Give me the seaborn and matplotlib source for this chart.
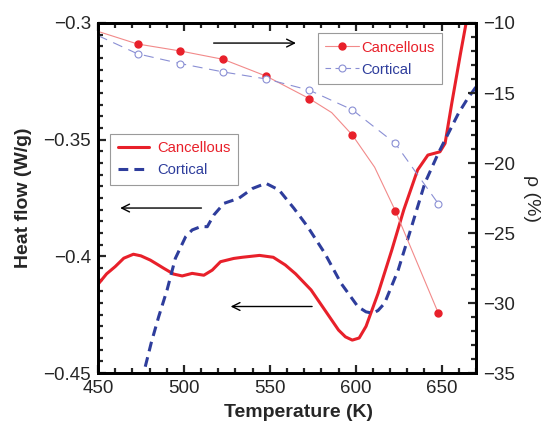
import matplotlib
matplotlib.use("Agg")
import matplotlib.pyplot as plt
import seaborn as sns
from matplotlib.lines import Line2D
from matplotlib.ticker import MultipleLocator

# ---------------- data ----------------
hf_canc_T = [450, 455, 460, 465, 470.6, 475, 480.4, 484, 488.2, 494, 499, 504.8, 511.6, 516.5,
             521.3, 529, 534, 544, 552, 559, 565, 574, 582, 590, 594, 598, 602, 606, 613, 621,
             628, 636, 642, 649, 652, 656, 661, 665]
hf_canc = [-0.412, -0.4075, -0.4044, -0.4008, -0.3991, -0.3998, -0.4016, -0.4032, -0.4051,
           -0.4076, -0.4084, -0.4073, -0.4081, -0.4059, -0.4023, -0.4009, -0.4004, -0.3996,
           -0.4004, -0.4037, -0.4075, -0.4144, -0.423, -0.4316, -0.4345, -0.4359, -0.4350,
           -0.430, -0.4159, -0.3973, -0.380, -0.363, -0.3566, -0.3552, -0.3516, -0.334,
           -0.313, -0.297]

hf_cort_T = [477.5, 481, 485.3, 490.2, 495, 501, 504.8, 510, 513.6, 517.4, 523.3, 532, 540,
             547.7, 555.4, 564, 572, 582, 591.5, 601.3, 606, 610, 613, 616.8, 624.7, 632.5,
             640.2, 648, 653.9, 659.8, 664.6, 670]
hf_cort = [-0.4473, -0.437, -0.4259, -0.4144, -0.4009, -0.3916, -0.3887, -0.3872, -0.3873,
           -0.3823, -0.3773, -0.3751, -0.3709, -0.3687, -0.3716, -0.3794, -0.3873, -0.3987,
           -0.4116, -0.4216, -0.4238, -0.4244, -0.4232, -0.4201, -0.4059, -0.3873, -0.3687,
           -0.3559, -0.3473, -0.3387, -0.333, -0.3274]

rho_T = [473, 498, 523, 548, 573, 598, 623, 648]
rho_canc = [-11.5, -12.0, -12.6, -13.8, -15.4, -18.0, -23.4, -30.7]
rho_cort = [-12.2, -12.9, -13.5, -14.0, -14.8, -16.2, -18.6, -22.9]

rho_canc_line_T = [450, 473, 498, 523, 548, 573, 586, 598, 611, 623, 648]
rho_canc_line = [-10.6, -11.5, -12.0, -12.6, -13.8, -15.4, -16.4, -18.0, -20.3, -23.4, -30.7]
rho_cort_line_T = [450, 473, 498, 523, 548, 573, 598, 623, 648]
rho_cort_line = [-10.9, -12.2, -12.9, -13.5, -14.0, -14.8, -16.2, -18.6, -22.9]

hf_ticks = [-0.45, -0.4, -0.35, -0.3]
hf_tick_labels = ["\u22120.45", "\u22120.4", "\u22120.35", "\u22120.3"]
rho_ticks = [-35, -30, -25, -20, -15, -10]
rho_tick_labels = ["\u221235", "\u221230", "\u221225", "\u221220", "\u221215", "\u221210"]
T_ticks = [450, 500, 550, 600, 650]

labels = ["Cancellous", "Cortical"]

# ---------------- style ----------------
sns.set_style("ticks")
plt.rcParams["font.family"] = ["Liberation Sans", "DejaVu Sans"]

RED = "#e8202a"
BLUE = "#2e3d9c"
PINK = "#f28a8a"
LAV = "#8a8fd4"

fig = plt.figure(figsize=(5.43, 4.22), dpi=100)
ax = fig.add_axes([0.1805, 0.1161, 0.6961, 0.8294])
ax2 = ax.twinx()

# heat flow curves (left axis)
sns.lineplot(x=hf_canc_T, y=hf_canc, ax=ax, color=RED, lw=2.2, sort=False, estimator=None)
sns.lineplot(x=hf_cort_T, y=hf_cort, ax=ax, color=BLUE, lw=2.2, sort=False, estimator=None,
             linestyle=(0, (3.2, 2.0)))

# porosity curves (right axis)
sns.lineplot(x=rho_canc_line_T, y=rho_canc_line, ax=ax2, color=PINK, lw=0.8, sort=False,
             estimator=None)
sns.lineplot(x=rho_cort_line_T, y=rho_cort_line, ax=ax2, color=LAV, lw=0.8, sort=False,
             estimator=None, linestyle=(0, (9, 6)))
ax2.plot(rho_T, rho_canc, linestyle="none", marker="o", ms=5, mfc=RED, mec=RED)
ax2.plot(rho_T, rho_cort, linestyle="none", marker="o", ms=5, mfc="white", mec=LAV, mew=0.8)

# axes limits and ticks
ax.set_xlim(450, 670)
ax.set_ylim(-0.45, -0.3)
ax2.set_ylim(-35, -10)

ax.set_xticks(T_ticks)
ax.xaxis.set_minor_locator(MultipleLocator(10))
ax.set_yticks(hf_ticks)
ax.set_yticklabels(hf_tick_labels)
ax.yaxis.set_minor_locator(MultipleLocator(0.005))
ax2.set_yticks(rho_ticks)
ax2.set_yticklabels(rho_tick_labels)
ax2.yaxis.set_minor_locator(MultipleLocator(1))

for a in (ax, ax2):
    for s in a.spines.values():
        s.set_linewidth(2.0)
        s.set_color("black")
        s.set_visible(True)

ax.tick_params(axis="x", which="both", direction="in", top=True, bottom=True,
               labelsize=13.5, pad=5, width=1.6)
ax.tick_params(axis="y", which="both", direction="in", left=True, right=False,
               labelsize=13.5, pad=5, width=1.6)
ax.tick_params(which="major", length=6)
ax.tick_params(which="minor", length=3.5)
ax2.tick_params(axis="y", which="both", direction="in", right=True, left=False,
                labelsize=13.5, pad=5, width=1.6)
ax2.tick_params(which="major", length=6)
ax2.tick_params(which="minor", length=3.5)

ax.set_xlabel("Temperature (K)", fontsize=14, fontweight="bold")
ax.xaxis.set_label_coords(0.53, -0.088)
ax.set_ylabel("Heat flow (W/g)", fontsize=14, fontweight="bold", labelpad=8)
ax2.set_ylabel("\u03c1 (%)", fontsize=14, rotation=270, labelpad=18)

# arrows
arrow_kw = dict(arrowstyle="->", lw=1.0, color="black", shrinkA=0, shrinkB=0,
                mutation_scale=14)
ax.annotate("", xy=(565.2, -0.3086), xytext=(517.3, -0.3086), arrowprops=arrow_kw)
ax.annotate("", xy=(462.9, -0.3793), xytext=(510.2, -0.3793), arrowprops=arrow_kw)
ax.annotate("", xy=(527.2, -0.4215), xytext=(574.6, -0.4215), arrowprops=arrow_kw)

# legends
h1 = [Line2D([], [], color=RED, lw=2.2),
      Line2D([], [], color=BLUE, lw=2.2, linestyle=(0, (3.2, 2.0)))]
leg1 = ax.legend(h1, labels, loc="upper left", bbox_to_anchor=(0.033, 0.683),
                 fontsize=10.6, frameon=True, fancybox=False, framealpha=1,
                 edgecolor="#9a9a9a", handlelength=2.15, handletextpad=0.5,
                 labelspacing=0.55, borderpad=0.5, borderaxespad=0)
leg1.get_frame().set_linewidth(0.8)
for t, c in zip(leg1.get_texts(), [RED, BLUE]):
    t.set_color(c)

h2 = [Line2D([], [], color=PINK, lw=0.8, marker="o", ms=5, mfc=RED, mec=RED),
      Line2D([], [], color=LAV, lw=0.8, linestyle=(0, (5, 4)), marker="o", ms=5,
             mfc="white", mec=LAV, mew=0.8)]
leg2 = ax2.legend(h2, labels, loc="upper left", bbox_to_anchor=(0.581, 0.971),
                  fontsize=10.6, frameon=True, fancybox=False, framealpha=1,
                  edgecolor="#9a9a9a", handlelength=2.3, handletextpad=0.15,
                  labelspacing=0.55, borderpad=0.5, borderaxespad=0)
leg2.get_frame().set_linewidth(0.8)
for t, c in zip(leg2.get_texts(), [RED, BLUE]):
    t.set_color(c)

fig.savefig("out.png", dpi=100)
